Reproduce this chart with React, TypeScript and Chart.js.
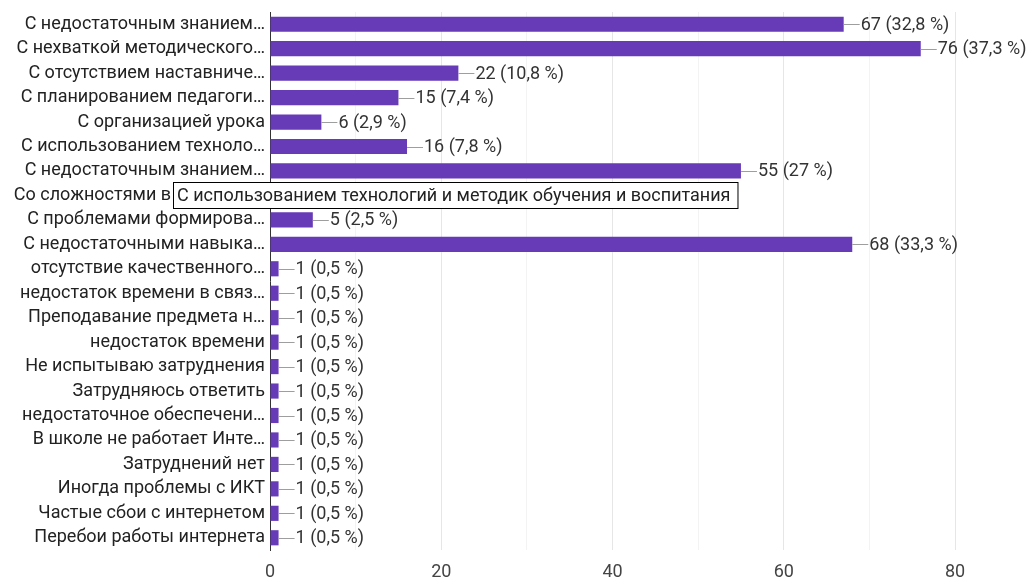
import React, { useEffect, useRef } from "react";
import { Chart, registerables } from "chart.js";

Chart.register(...registerables);

const categories = [
  "С недостаточным знанием…",
  "С нехваткой методического…",
  "С отсутствием наставниче…",
  "С планированием педагоги…",
  "С организацией урока",
  "С использованием техноло…",
  "С недостаточным знанием…",
  "Со сложностями в организа…",
  "С проблемами формирова…",
  "С недостаточными навыка…",
  "отсутствие качественного…",
  "недостаток времени в связ…",
  "Преподавание предмета н…",
  "недостаток времени",
  "Не испытываю затруднения",
  "Затрудняюсь ответить",
  "недостаточное обеспечени…",
  "В школе не работает Инте…",
  "Затруднений нет",
  "Иногда проблемы с ИКТ",
  "Частые сбои с интернетом",
  "Перебои работы интернета",
];

const counts = [67, 76, 22, 15, 6, 16, 55, 9, 5, 68, 1, 1, 1, 1, 1, 1, 1, 1, 1, 1, 1, 1];
const percents = ["32,8", "37,3", "10,8", "7,4", "2,9", "7,8", "27", "4,4", "2,5", "33,3",
  "0,5", "0,5", "0,5", "0,5", "0,5", "0,5", "0,5", "0,5", "0,5", "0,5", "0,5", "0,5"];
const xTicks = [0, 20, 40, 60, 80];
const hoverText = "С использованием технологий и методик обучения и воспитания";
const hoverRow = 7;

const FONT = "Roboto, 'Liberation Sans', Arial, sans-serif";
const FS = 18;

const valueLabels = {
  id: "valueLabels",
  afterDatasetsDraw(chart: any) {
    const ctx = chart.ctx;
    const meta = chart.getDatasetMeta(0);
    ctx.save();
    ctx.font = `${FS}px ${FONT}`;
    ctx.textBaseline = "middle";
    ctx.textAlign = "left";
    meta.data.forEach((bar: any, i: number) => {
      const x = bar.x;
      const y = bar.y;
      ctx.strokeStyle = "#9e9e9e";
      ctx.lineWidth = 1;
      ctx.beginPath();
      ctx.moveTo(x, Math.round(y) + 0.5);
      ctx.lineTo(x + 16, Math.round(y) + 0.5);
      ctx.stroke();
      ctx.fillStyle = "#333333";
      ctx.fillText(`${counts[i]} (${percents[i]} %)`, x + 17, y + 1);
    });
    ctx.restore();
  },
  afterDraw(chart: any) {
    const ctx = chart.ctx;
    const yScale = chart.scales.y;
    const y = yScale.getPixelForValue(hoverRow);
    ctx.save();
    ctx.font = `${FS}px ${FONT}`;
    const w = ctx.measureText(hoverText).width;
    const left = chart.chartArea.left - 97;
    const top = Math.round(y - 13) + 0.5;
    ctx.fillStyle = "#ffffff";
    ctx.fillRect(left, top, w + 12, 26);
    ctx.strokeStyle = "#000000";
    ctx.lineWidth = 1;
    ctx.strokeRect(left + 0.5, top, w + 11, 26);
    ctx.fillStyle = "#222222";
    ctx.textBaseline = "middle";
    ctx.fillText(hoverText, left + 4, top + 13.5);
    ctx.restore();
  },
};

export default function App() {
  const ref = useRef<HTMLCanvasElement>(null);
  useEffect(() => {
    if (!ref.current) return;
    const chart = new Chart(ref.current, {
      type: "bar",
      data: {
        labels: categories,
        datasets: [
          {
            data: counts,
            backgroundColor: "#673ab7",
            borderWidth: 0,
            barPercentage: 0.62,
            categoryPercentage: 1,
          },
        ],
      },
      options: {
        indexAxis: "y",
        animation: false,
        responsive: false,
        maintainAspectRatio: false,
        layout: { padding: { top: 12, right: 79, bottom: 0, left: 0 } },
        plugins: { legend: { display: false }, tooltip: { enabled: false } },
        scales: {
          x: {
            min: 0,
            max: 80,
            border: { display: false },
            afterFit: (s: any) => {
              s.height = 29;
              s.paddingLeft = 0;
              s.paddingRight = 0;
            },
            grid: {
              drawTicks: false,
              color: (c: any) =>
                c.tick && c.tick.value === 0
                  ? "rgba(0,0,0,0)"
                  : c.tick && c.tick.value % 20 === 0
                  ? "#e6e6e6"
                  : "#f3f3f3",
            },
            ticks: {
              stepSize: 10,
              padding: 12,
              color: "#444444",
              font: { family: FONT, size: FS },
              callback: (v: any) => (xTicks.includes(Number(v)) ? String(v) : ""),
            },
          },
          y: {
            border: { display: true, color: "#333333", width: 1 },
            grid: { display: false, drawTicks: false },
            afterFit: (s: any) => {
              s.width = 270;
              s.paddingTop = 0;
              s.paddingBottom = 0;
            },
            ticks: {
              autoSkip: false,
              padding: 5,
              color: "#222222",
              font: { family: FONT, size: FS },
            },
          },
        },
      },
      plugins: [valueLabels],
    });
    return () => chart.destroy();
  }, []);
  return (
    <div style={{ position: "fixed", left: 0, top: 0, width: 1034, height: 579, background: "#fff" }}>
      <canvas ref={ref} width={1034} height={579} style={{ width: 1034, height: 579 }} />
    </div>
  );
}
